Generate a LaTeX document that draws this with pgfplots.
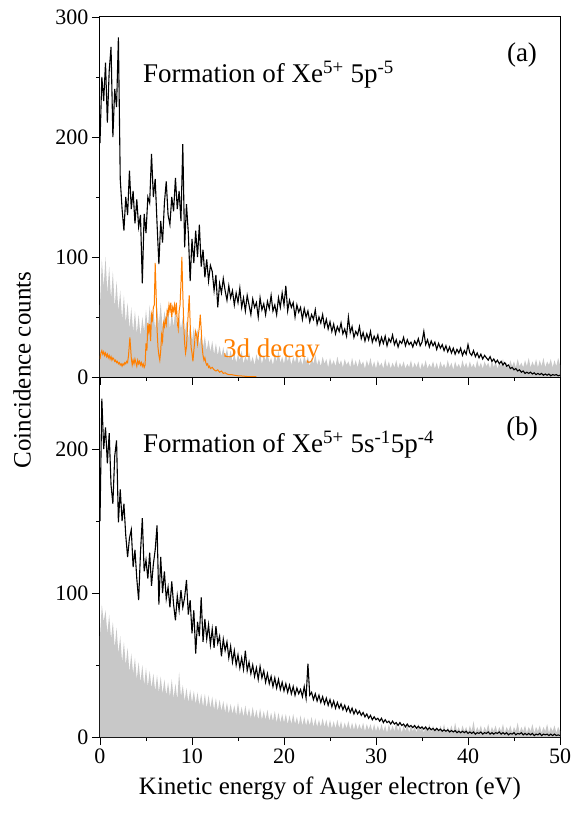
\documentclass[border=0pt]{standalone}
\usepackage{fontspec}
\setmainfont{Liberation Serif}
\usepackage{pgfplots}
\pgfplotsset{compat=1.18}
\usepackage{pgfplotstable}
\definecolor{orng}{RGB}{255,127,0}
\definecolor{gfill}{RGB}{200,200,200}

\pgfplotstableread{
x ya ga yb gb
0.0 195 60 150 70
0.2 250 98 235 92
0.4 230 75 200 80
0.6 262 100 215 88
0.8 212 70 190 72
1.0 255 92 211 85
1.2 275 65 175 68
1.4 200 88 162 80
1.6 240 58 195 62
1.8 225 80 206 76
2.0 283 55 149 58
2.2 165 72 172 70
2.4 140 48 150 52
2.6 122 68 162 66
2.8 150 45 140 50
3.0 135 62 125 62
3.2 172 40 138 45
3.4 140 58 144 58
3.6 155 38 118 44
3.8 128 55 130 55
4.0 148 36 110 40
4.2 125 52 95 52
4.4 135 34 128 38
4.6 78 50 152 50
4.8 136 38 115 36
5.0 120 56 123 48
5.2 150 40 110 35
5.4 145 60 128 46
5.6 186 42 105 34
5.8 150 55 120 44
6.0 165 40 130 32
6.2 128 58 147 43
6.4 94 44 92 31
6.6 130 62 125 42
6.8 112 41 100 30
7.0 145 55 115 40
7.2 163 45 96 29
7.4 135 60 104 38
7.6 127 40 90 28
7.8 150 54 108 40
8.0 138 42 92 27
8.2 166 58 81 37
8.4 140 38 98 26
8.6 155 52 88 45
8.8 130 40 102 28
9.0 194 50 90 36
9.2 108 35 97 25
9.4 144 47 109 34
9.6 120 32 85 24
9.8 80 44 95 33
10.0 115 30 72 24
10.2 95 42 88 32
10.4 122 28 58 23
10.6 100 40 80 31
10.8 127 27 70 22
11.0 92 36 97 30
11.2 106 25 66 21
11.4 83 34 82 30
11.6 98 22 68 20
11.8 80 31 78 29
12.0 93 21 64 20
12.2 88 30 75 28
12.4 72 19 62 19
12.6 85 28 77 27
12.8 58 18 65 18
13.0 78 26 70 26
13.2 70 17 56 18
13.4 82 25 68 25
13.6 72 16 60 17
13.8 64 24 66 24
14.0 76 15 55 16
14.2 66 22 63 23
14.4 72 13 52 16
14.6 60 20 60 22
14.8 70 12 50 15
15.0 62 19 57 24
15.2 74 14 48 15
15.4 58 22 55 21
15.6 66 11 47 14
15.8 55 18 60 22
16.0 68 13 46 14
16.2 60 21 52 20
16.4 52 12 44 13
16.6 65 17 50 21
16.8 58 10 42 13
17.0 62 19 48 19
17.2 50 13 40 12
17.4 66 20 49 20
17.6 56 11 41 12
17.8 61 18 46 18
18.0 52 14 38 12
18.2 63 21 44 19
18.4 57 12 37 11
18.6 68 16 42 17
18.8 55 10 35 11
19.0 60 19 41 18
19.2 52 13 34 10
19.4 66 22 40 17
19.6 58 12 33 10
19.8 70 17 38 16
20.0 60 11 32 10
20.2 76 20 37 16
20.4 55 13 31 9
20.6 64 18 36 15
20.8 58 10 30 9
21.0 62 17 35 16
21.2 50 12 29 9
21.4 60 19 34 14
21.6 54 11 30 8
21.8 58 16 33 15
22.0 48 10 28 8
22.2 57 18 35 14
22.4 50 12 27 8
22.6 55 17 51 13
22.8 46 9 29 8
23.0 52 16 31 14
23.2 48 11 26 7
23.4 56 19 30 13
23.6 44 10 25 7
23.8 50 15 29 12
24.0 45 9 24 7
24.2 52 17 28 13
24.4 42 11 23 7
24.6 48 15 27 12
24.8 40 8 22 6
25.0 46 16 26 12
25.2 38 10 21 6
25.4 44 14 25 11
25.6 36 9 20 6
25.8 42 17 24 12
26.0 38 10 20 6
26.2 45 14 23 11
26.4 36 8 19 5
26.6 40 15 22 10
26.8 34 10 18 6
27.0 50 13 21 11
27.2 37 8 17 5
27.4 42 16 20 10
27.6 33 9 16 5
27.8 38 14 19 10
28.0 35 8 16 5
28.2 42 15 18 9
28.4 32 10 15 5
28.6 37 13 17 10
28.8 30 7 14 4
29.0 36 14 16 9
29.2 31 9 13 5
29.4 38 16 15 9
29.6 29 8 12 4
29.8 34 13 14 9
30.0 30 7 12 4
30.2 35 14 13 8
30.4 27 9 11 4
30.6 33 12 13 9
30.8 28 7 10 4
31.0 34 15 12 8
31.2 26 8 10 3
31.4 32 13 11 9
31.6 29 7 9 4
31.8 35 12 11 8
32.0 27 8 9 4
32.2 31 14 10 10
32.4 25 7 8 4
32.6 30 12 10 8
32.8 28 8 8 3
33.0 33 13 9 8
33.2 26 7 7 4
33.4 31 11 9 9
33.6 27 8 7 3
33.8 29 14 8 8
34.0 25 7 6.5 4
34.2 30 12 8 7
34.4 27 8 6 3
34.6 32 13 7.5 9
34.8 26 6 6 4
35.0 29 12 7 8
35.2 38 8 5.5 3
35.4 27 14 7 7
35.6 31 7 5 4
35.8 25 11 6.5 9
36.0 30 8 5 3
36.2 26 13 6 8
36.4 29 7 4.5 4
36.6 23 12 6 7
36.8 28 6 4.5 3
37.0 24 13 5.5 8
37.2 27 8 4 4
37.4 22 11 5 9
37.6 26 7 4 3
37.8 21 14 5 7
38.0 25 8 3.5 4
38.2 20 12 4.5 8
38.4 24 6 3.5 3
38.6 19 13 4.5 10
38.8 23 8 3 4
39.0 20 11 4 7
39.2 24 7 3 3
39.4 18 14 4 8
39.6 22 8 3 4
39.8 19 12 4 7
40.0 27 7 2.5 3
40.2 20 13 3.5 8
40.4 18 8 2.5 4
40.6 22 11 3.5 11
40.8 17 7 2 3
41.0 20 14 3 7
41.2 16 8 2.5 4
41.4 19 12 3.5 8
41.6 15 7 2 3
41.8 18 13 3 7
42.0 16 9 2.5 4
42.2 14 12 3.5 9
42.4 17 7 2 3
42.6 13 14 3 7
42.8 15 8 2 4
43.0 12 13 3 8
43.2 14 7 2.5 3
43.4 11 12 3.5 7
43.6 13 9 2 4
43.8 10 15 3 9
44.0 12 8 2 3
44.2 9 12 3 7
44.4 10 7 1.5 4
44.6 7 14 2.5 8
44.8 8 9 2 3
45.0 6 13 3 7
45.2 7 8 1.5 4
45.4 5 15 2.5 10
45.6 6 9 2 3
45.8 4 12 3 7
46.0 5 8 1.5 4
46.2 3 14 2.5 8
46.4 4 9 1.5 3
46.6 3 16 2.5 7
46.8 4 8 1.5 4
47.0 2.5 13 2.5 9
47.2 3.5 9 1 3
47.4 2 15 2 7
47.6 3 8 1.5 4
47.8 2 14 2.5 8
48.0 3 9 1 3
48.2 1.5 16 2 7
48.4 2.5 8 1.5 4
48.6 1.5 13 2 9
48.8 2.5 10 1 3
49.0 1 15 2 7
49.2 2 8 1 4
49.4 1.5 14 2 8
49.6 2 9 1 3
49.8 1 16 1.5 7
50.0 1.5 10 1 4
}\data

\begin{document}
\begin{tikzpicture}[x=1pt,y=1pt]
\useasboundingbox (-100pt,-86pt) rectangle (475pt,737pt);
\pgfplotsset{
  every axis/.append style={
    scale only axis, width=460pt, height=360pt,
    xmin=0, xmax=50, ymin=0,
    axis line style={line width=1pt},
    tick style={black, line width=0.9pt},
    tick align=outside,
    xtick pos=bottom, ytick pos=left,
    major tick length=8pt, minor tick length=4pt,
    xtick={0,10,20,30,40,50}, minor xtick={5,15,25,35,45},
    tick label style={font=\rmfamily\fontsize{22}{22}\selectfont},
  }
}
% panel (b)
\begin{axis}[at={(0pt,0pt)}, anchor=south west, ymax=250,
  ytick={0,100,200}, yticklabels={0,100,200}, minor ytick={50,150,250},
  xticklabels={0,10,20,30,40,50}]
\addplot[fill=gfill, draw=none] table[x=x,y=gb] {\data} \closedcycle;
\addplot[black, line width=1.1pt] table[x=x,y=yb] {\data};
\end{axis}
% panel (a)
\begin{axis}[at={(0pt,360pt)}, anchor=south west, ymax=300,
  ytick={0,100,200,300}, yticklabels={0,100,200,300}, minor ytick={50,150,250}, xticklabels={}]
\addplot[fill=gfill, draw=none] table[x=x,y=ga] {\data} \closedcycle;
\addplot[orng, line width=1pt] coordinates {
(0,15) (0.1,20) (0.2,22) (0.3,19) (0.4,21) (0.5,18) (0.6,20) (0.7,17) (0.8,19) (0.9,16)
(1.0,18) (1.1,15) (1.2,17) (1.3,14) (1.4,16) (1.5,15) (1.6,13) (1.7,14) (1.8,12) (1.9,13)
(2.0,11) (2.1,12) (2.2,10) (2.3,11) (2.4,9) (2.5,11) (2.6,10) (2.7,12) (2.8,11) (2.9,13)
(3.0,12) (3.1,18) (3.25,33) (3.4,16) (3.5,10) (3.6,14) (3.7,11) (3.8,15) (3.9,12) (4.0,9)
(4.1,14) (4.2,11) (4.3,13) (4.4,10) (4.5,12) (4.6,9) (4.7,11) (4.8,8) (4.9,10) (5.0,28)
(5.1,22) (5.2,45) (5.3,38) (5.4,44) (5.5,30) (5.6,52) (5.7,48) (5.8,58) (5.9,60) (6.0,95)
(6.1,70) (6.2,40) (6.3,25) (6.4,18) (6.5,14) (6.6,22) (6.7,35) (6.8,30) (6.9,45) (7.0,42)
(7.1,48) (7.2,44) (7.3,55) (7.4,52) (7.5,60) (7.6,55) (7.7,62) (7.8,50) (7.9,58) (8.0,55)
(8.1,60) (8.2,52) (8.3,62) (8.4,45) (8.5,40) (8.6,55) (8.7,60) (8.8,78) (8.9,100) (9.0,70)
(9.1,45) (9.2,28) (9.3,20) (9.4,25) (9.5,40) (9.6,55) (9.7,68) (9.8,45) (9.9,25) (10.0,20)
(10.1,13) (10.2,22) (10.3,30) (10.4,38) (10.5,35) (10.6,28) (10.7,35) (10.8,42) (10.9,52) (11.0,40)
(11.1,25) (11.2,18) (11.3,14) (11.4,16) (11.5,12) (11.6,10) (11.7,11) (11.8,8) (11.9,9) (12.0,7)
(12.2,8) (12.4,6) (12.6,5) (12.8,6) (13.0,4) (13.2,5) (13.4,3) (13.6,3.5) (13.8,2.5) (14.0,2)
(14.3,2) (14.6,1.5) (15.0,1) (15.5,0.8) (16,0.4) (17,0.3)
};
\addplot[black, line width=1.1pt] table[x=x,y=ya] {\data};
\end{axis}
% texts
\begin{scope}[font=\fontsize{27}{27}\selectfont]
\node[anchor=base west, inner sep=0pt] at (43pt,654pt) {Formation of Xe\textsuperscript{5+} 5p\textsuperscript{-5}};
\node[anchor=base, inner sep=0pt] at (422pt,675pt) {(a)};
\node[anchor=base west, inner sep=0pt, text=orng] at (123pt,379pt) {3d decay};
\node[anchor=base west, inner sep=0pt] at (43pt,284pt) {Formation of Xe\textsuperscript{5+} 5s\textsuperscript{-1}5p\textsuperscript{-4}};
\node[anchor=base, inner sep=0pt] at (422pt,301pt) {(b)};
\end{scope}
\begin{scope}[font=\fontsize{25}{25}\selectfont]
\node[rotate=90, inner sep=0pt] at (-78pt,367pt) {Coincidence counts};
\node[anchor=base, inner sep=0pt] at (230pt,-57pt) {Kinetic energy of Auger electron (eV)};
\end{scope}
\end{tikzpicture}
\end{document}
